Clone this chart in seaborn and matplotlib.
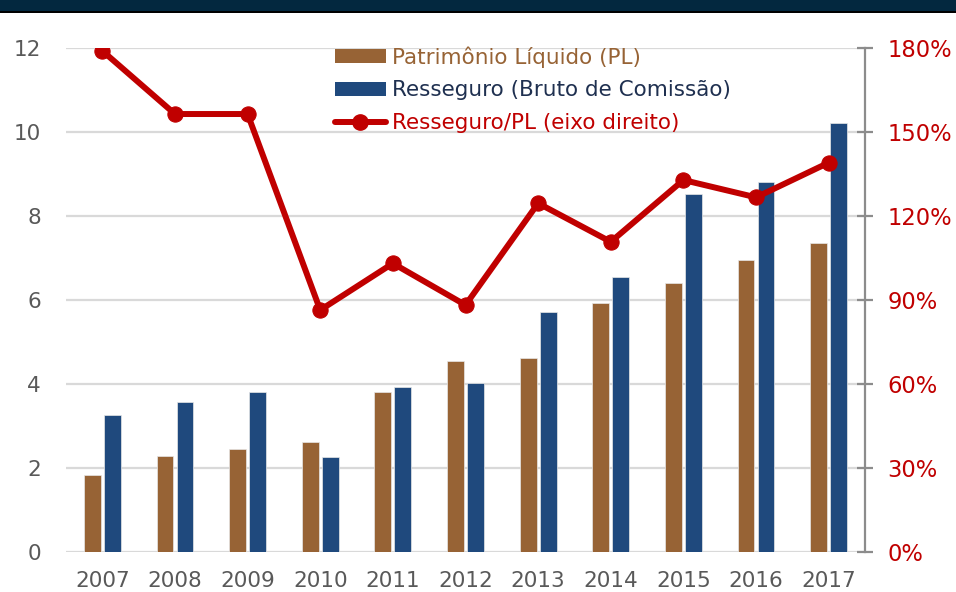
import numpy as np
import pandas as pd
import matplotlib
matplotlib.use("Agg")
import matplotlib.pyplot as plt
from matplotlib.patches import Patch, Rectangle
from matplotlib.lines import Line2D
import seaborn as sns

years = ["2007", "2008", "2009", "2010", "2011", "2012", "2013", "2014", "2015", "2016", "2017"]
pl = [1.83, 2.29, 2.44, 2.62, 3.81, 4.55, 4.61, 5.92, 6.41, 6.95, 7.35]
resseguro = [3.27, 3.56, 3.81, 2.25, 3.93, 4.03, 5.71, 6.56, 8.52, 8.82, 10.23]
ratio = [179.1, 156.5, 156.5, 86.4, 103.1, 88.2, 124.6, 110.8, 132.9, 126.7, 139.1]

series_names = ["Patrimônio Líquido (PL)", "Resseguro (Bruto de Comissão)", "Resseguro/PL (eixo direito)"]
left_ticks = [0, 2, 4, 6, 8, 10, 12]
right_ticks = [0, 30, 60, 90, 120, 150, 180]

BROWN = "#976335"
BLUE = "#1f497d"
RED = "#c00000"
GRAY = "#595959"

sns.set_theme(style="white")
plt.rcParams["font.family"] = ["DejaVu Sans"]

W, H = 956, 592
fig = plt.figure(figsize=(W / 100, H / 100), dpi=100)
fig.patch.set_facecolor("white")

L, R, B, T = 66, 865, 551.7, 48.3
ax = fig.add_axes([L / W, 1 - B / H, (R - L) / W, (B - T) / H])

df = pd.DataFrame({
    "ano": years * 2,
    "valor": pl + resseguro,
    "serie": [series_names[0]] * len(years) + [series_names[1]] * len(years),
})
sns.barplot(data=df, x="ano", y="valor", hue="serie", order=years,
            hue_order=series_names[:2], palette=[BROWN, BLUE], saturation=1,
            width=0.55, gap=0.16, ax=ax, legend=False,
            edgecolor="#e8e8e8", linewidth=0.5, zorder=2)

ax.set_xlim(-0.5, 10.5)
ax.set_ylim(0, 12)
ax.set_yticks(left_ticks)
ax.set_yticklabels([str(v) for v in left_ticks])
ax.yaxis.grid(True, color="#d9d9d9", linewidth=1.6, zorder=0)
ax.set_axisbelow(True)
for s in ax.spines.values():
    s.set_visible(False)
ax.tick_params(axis="y", length=0, pad=18, labelsize=15.5, labelcolor=GRAY)
ax.tick_params(axis="x", length=0, pad=14, labelsize=15.5, labelcolor=GRAY)
ax.set_xlabel("")
ax.set_ylabel("")

ax2 = ax.twinx()
sns.lineplot(x=np.arange(len(years)), y=ratio, ax=ax2, color=RED,
             linewidth=4.3, marker="o", markersize=11,
             markeredgecolor=RED, markerfacecolor=RED, zorder=5)
ax2.set_ylim(0, 180)
ax2.set_yticks(right_ticks)
ax2.set_yticklabels([f"{v}%" for v in right_ticks])
ax2.set_xlim(-0.5, 10.5)
for side in ["left", "top", "bottom"]:
    ax2.spines[side].set_visible(False)
ax2.spines["right"].set_color("#8c8c8c")
ax2.spines["right"].set_linewidth(1.6)
ax2.tick_params(axis="y", direction="inout", length=12, width=1.6,
                color="#8c8c8c", pad=10, labelsize=16.3, labelcolor=RED)
ax2.grid(False)

handles = [
    Patch(facecolor=BROWN, edgecolor="none"),
    Patch(facecolor=BLUE, edgecolor="none"),
    Line2D([0], [0], color=RED, linewidth=4.3, marker="o", markersize=11),
]
leg = ax2.legend(handles, series_names, loc="upper left",
                 bbox_to_anchor=(335 / W, 1 - 46 / H),
                 bbox_transform=fig.transFigure, frameon=False,
                 fontsize=15.5, handlelength=2.35, handleheight=0.6,
                 handletextpad=0.3, labelspacing=0.6, borderpad=0,
                 borderaxespad=0, labelcolor=[BROWN, "#1f3050", RED])

fig.patches.append(Rectangle((0, 1 - 11 / H), 1, 11 / H, transform=fig.transFigure,
                             facecolor="#03283f", edgecolor="none", zorder=10))
fig.patches.append(Rectangle((0, 1 - 13 / H), 1, 2 / H, transform=fig.transFigure,
                             facecolor="#000000", edgecolor="none", zorder=10))

fig.savefig("out.png", dpi=100)
